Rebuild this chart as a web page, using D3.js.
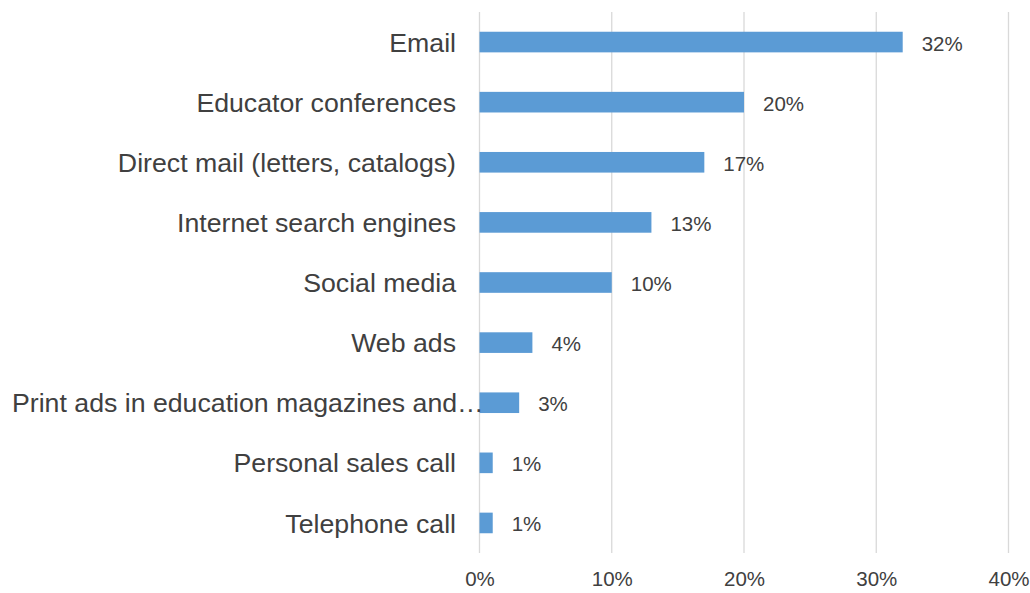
<!DOCTYPE html>
<html>
<head>
<meta charset="utf-8">
<script src="https://cdn.jsdelivr.net/npm/d3@7"></script>
<style>
  html, body { margin: 0; padding: 0; background: #fff; }
  svg { display: block; font-family: "Liberation Sans", Arial, sans-serif; }
</style>
</head>
<body>
<svg id="chart" width="1030" height="593"></svg>
<script>
// Source channels and share of respondents (%)
const categories = [
  "Email",
  "Educator conferences",
  "Direct mail (letters, catalogs)",
  "Internet search engines",
  "Social media",
  "Web ads",
  "Print ads in education magazines and…",
  "Personal sales call",
  "Telephone call"
];
const values = [32, 20, 17, 13, 10, 4, 3, 1, 1];
const tickValues = [0, 10, 20, 30, 40];

const svg = d3.select("#chart");
const textColor = "#404040";
const barColor = "#5b9bd5";
const gridColor = "#d9d9d9";

const x = d3.scaleLinear().domain([0, 40]).range([479.5, 1008.5]);
const y = d3.scaleBand()
  .domain(categories)
  .range([12, 553])
  .paddingInner(0.657)
  .paddingOuter(0.3285);

// vertical gridlines
svg.append("g")
  .selectAll("line")
  .data(tickValues)
  .join("line")
  .attr("x1", d => x(d)).attr("x2", d => x(d))
  .attr("y1", 12).attr("y2", 553)
  .attr("stroke", gridColor)
  .attr("stroke-width", 1.3);

// x-axis tick labels
const xAxis = d3.axisBottom(x)
  .tickValues(tickValues)
  .tickFormat(d => d + "%")
  .tickSize(0)
  .tickPadding(0);
const gx = svg.append("g").attr("transform", "translate(0,570)").call(xAxis);
gx.select(".domain").remove();
gx.selectAll("text")
  .attr("fill", textColor)
  .attr("font-size", 20.5)
  .attr("font-family", "Liberation Sans, Arial, sans-serif")
  .attr("dy", "0.8em");

// bars
svg.append("g")
  .selectAll("rect")
  .data(values)
  .join("rect")
  .attr("x", x(0))
  .attr("y", (d, i) => y(categories[i]))
  .attr("width", d => x(d) - x(0))
  .attr("height", y.bandwidth())
  .attr("fill", barColor);

// value labels
svg.append("g")
  .selectAll("text")
  .data(values)
  .join("text")
  .attr("x", d => x(d) + 19)
  .attr("y", (d, i) => y(categories[i]) + y.bandwidth() / 2 + 8.5)
  .attr("fill", textColor)
  .attr("font-size", 20.5)
  .text(d => d + "%");

// category labels, right-aligned; a label too long for the margin starts at the left edge
const labelRight = 456;
const labelLeft = 12;
const yAxis = d3.axisLeft(y).tickSize(0).tickPadding(0);
const gy = svg.append("g").attr("transform", `translate(${labelRight},0)`).call(yAxis);
gy.select(".domain").remove();
gy.selectAll("text")
  .attr("fill", textColor)
  .attr("font-size", 26.7)
  .attr("font-family", "Liberation Sans, Arial, sans-serif")
  .attr("dy", "0.36em")
  .each(function () {
    const w = this.getComputedTextLength();
    if (w > labelRight - labelLeft) {
      d3.select(this).attr("text-anchor", "start").attr("x", labelLeft - labelRight);
    }
  });
</script>
</body>
</html>
